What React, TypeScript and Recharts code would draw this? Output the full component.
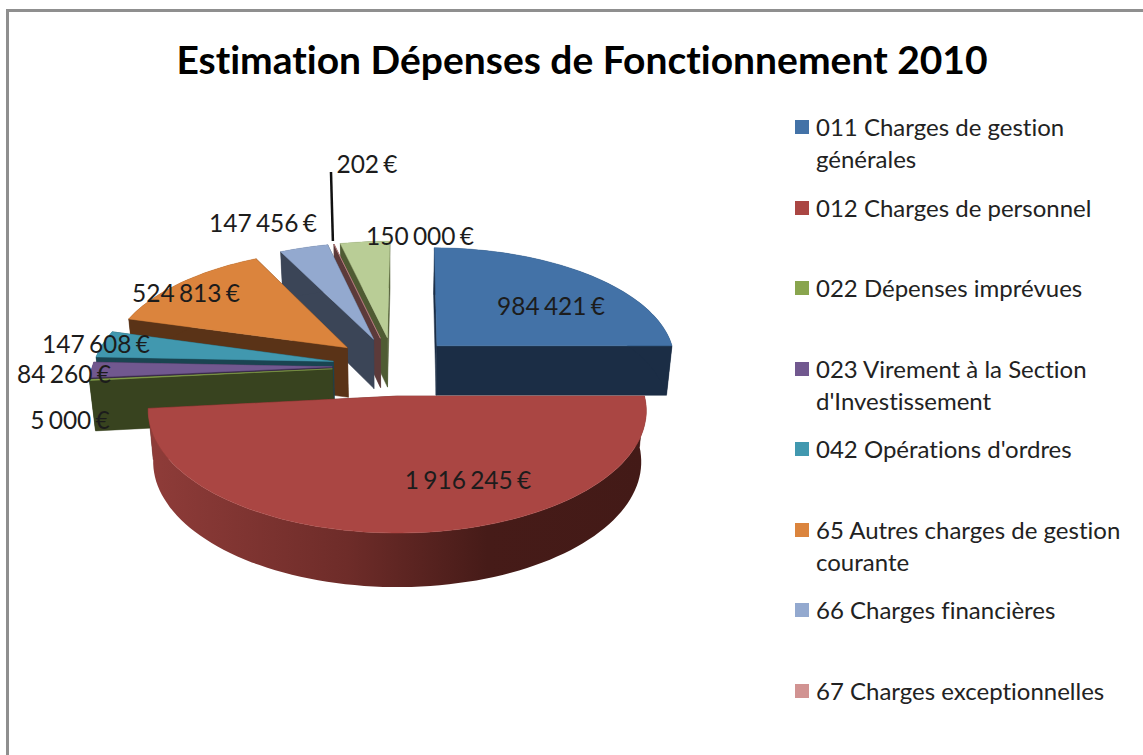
// Estimation Dépenses de Fonctionnement 2010 - exploded 3D pie, drawn with a custom Pie shape
import React from 'react';
import { PieChart, Pie, Legend } from 'recharts';

const legendLines = [
  ['011 Charges de gestion', 'générales'],
  ['012 Charges de personnel'],
  ['022 Dépenses imprévues'],
  ['023 Virement à la Section', "d'Investissement"],
  ["042 Opérations d'ordres"],
  ['65 Autres charges de gestion', 'courante'],
  ['66 Charges financières'],
  ['67 Charges exceptionnelles'],
];
const values = [984421, 1916245, 5000, 84260, 147608, 524813, 147456, 202, 150000];
const topColors = ['#4372a7', '#aa4643', '#89a54e', '#71588f', '#4198af', '#db843d', '#93a9cf', '#d19392', '#b9cd96'];
const wallColors = ['#1b2d45', 'url(#redSide)', '#38431f', '#3a2a4a', '#1a4451', '#5a3317', '#3b4557', '#5c3a3a', '#4f5b33'];

// centre of each value label
const labelAnchors = [
  [551, 305], [468, 479], [70, 419], [64, 373], [96, 343], [186, 292], [263, 222], [367, 163], [420, 235],
];

// slices are painted back to front: counter-clockwise from 3 o'clock, blue first and red last
const drawOrder = [0, 8, 7, 6, 5, 4, 3, 2, 1];

const tableData = drawOrder.map((i) => ({
  i,
  name: legendLines[i]?.join(' ') ?? '',
  value: values[i],
  top: topColors[i],
  wall: wallColors[i],
}));

// projection of the tilted pie
const RADIUS_Y = 113.7;
const PERSPECTIVE = 0.115;
const EXPLODE = 0.257;
const THICKNESS = 50;
const BOTTOM_SHRINK = 0.98;
const CX = 394;
const CY = 366;
const RADIUS_X = 240;

const project = (u: number, v: number, depth = 0) => {
  const s = 1 / (1 - PERSPECTIVE * v);
  const shrink = depth ? BOTTOM_SHRINK : 1;
  return {
    x: CX + RADIUS_X * u * s * shrink,
    y: CY + RADIUS_Y * v * s + depth * Math.sqrt(s),
  };
};

const rad = (a: number) => (a * Math.PI) / 180;

const toPath = (pts: { x: number; y: number }[]) =>
  'M' + pts.map((p) => `${p.x.toFixed(1)} ${p.y.toFixed(1)}`).join('L') + 'Z';

const offsetOf = (startAngle: number, endAngle: number) => {
  const mid = rad((startAngle + endAngle) / 2);
  return { ou: Math.cos(mid) * EXPLODE, ov: -Math.sin(mid) * EXPLODE };
};

const Slice3D = (props: any) => {
  const { startAngle, endAngle } = props;
  const row = props.payload ?? props;
  const { ou, ov } = offsetOf(startAngle, endAngle);

  const rim = (a: number, depth = 0) => project(ou + Math.cos(rad(a)), ov - Math.sin(rad(a)), depth);
  const apex = (depth = 0) => project(ou, ov, depth);

  const steps = Math.max(2, Math.ceil((endAngle - startAngle) / 2));
  const angles = Array.from({ length: steps + 1 }, (_, k) => startAngle + ((endAngle - startAngle) * k) / steps);

  const top = toPath([apex(), ...angles.map((a) => rim(a))]);
  const side = toPath([...angles.map((a) => rim(a)), ...[...angles].reverse().map((a) => rim(a, THICKNESS))]);
  const faceA = toPath([apex(), rim(startAngle), rim(startAngle, THICKNESS), apex(THICKNESS)]);
  const faceB = toPath([apex(), rim(endAngle), rim(endAngle, THICKNESS), apex(THICKNESS)]);
  const flatWall = row.wall.startsWith('url') ? '#5e2420' : row.wall;

  return (
    <g>
      <path d={faceA} fill={flatWall} stroke={flatWall} strokeWidth={0.5} />
      <path d={faceB} fill={flatWall} stroke={flatWall} strokeWidth={0.5} />
      <path d={side} fill={row.wall} />
      <path d={top} fill={row.top} stroke={row.top} strokeWidth={0.5} />
    </g>
  );
};

const formatEuro = (v: number) => String(v).replace(/\B(?=(\d{3})+$)/g, ' ') + ' €';

const SliceLabel = (props: any) => {
  const row = props.payload ?? props;
  const [x, y] = labelAnchors[row.i];
  let leader = null;
  if (row.i === 7) {
    const a = (props.startAngle + props.endAngle) / 2;
    const { ou, ov } = offsetOf(props.startAngle, props.endAngle);
    const end = project(ou + Math.cos(rad(a)), ov - Math.sin(rad(a)));
    leader = <line x1={x - 36} y1={172} x2={end.x - 1} y2={end.y - 3} stroke="#111" strokeWidth={2.5} />;
  }
  return (
    <g>
      {leader}
      <text
        x={x}
        y={y}
        textAnchor="middle"
        dominantBaseline="central"
        fontFamily="Lato, sans-serif"
        fontSize={24.5}
        wordSpacing={-2}
        fill="#1c1c1c"
      >
        {formatEuro(row.value)}
      </text>
    </g>
  );
};

const ChartLegend = () => (
  <div
    style={{
      fontFamily: 'Lato, sans-serif',
      fontSize: 24,
      fontVariantLigatures: 'none',
      color: '#222',
      lineHeight: '32px',
    }}
  >
    {legendLines.map((lines, i) => (
      <div key={i} style={{ position: 'absolute', left: 0, top: i * 80.5, display: 'flex' }}>
        <div style={{ width: 14, height: 14, marginTop: 9, marginRight: 7, background: topColors[i] }} />
        <div style={{ whiteSpace: 'nowrap' }}>
          {lines.map((l) => (
            <div key={l}>{l}</div>
          ))}
        </div>
      </div>
    ))}
  </div>
);

export default function App() {
  return (
    <div style={{ position: 'fixed', left: 0, top: 0, width: 1143, height: 755, background: '#fff', overflow: 'hidden' }}>
      <div
        style={{
          position: 'absolute',
          left: 6,
          top: 9,
          width: 1200,
          height: 800,
          borderTop: '3px solid #8f8f8f',
          borderLeft: '3px solid #8f8f8f',
        }}
      />
      <div
        style={{
          position: 'absolute',
          left: 0,
          width: 1164,
          top: 34,
          textAlign: 'center',
          fontFamily: 'Lato, sans-serif',
          fontWeight: 700,
          fontSize: 39,
          fontVariantLigatures: 'none',
          lineHeight: '50px',
          color: '#000',
          whiteSpace: 'nowrap',
        }}
      >
        Estimation Dépenses de Fonctionnement 2010
      </div>
      <PieChart width={1143} height={755} margin={{ top: 0, right: 0, bottom: 0, left: 0 }}>
        <defs>
          <linearGradient id="redSide" x1="0" y1="0" x2="1" y2="0">
            <stop offset="0" stopColor="#8f3c39" />
            <stop offset="0.4" stopColor="#6e2c29" />
            <stop offset="0.68" stopColor="#461b18" />
            <stop offset="1" stopColor="#431a17" />
          </linearGradient>
        </defs>
        <Pie
          data={tableData}
          dataKey="value"
          nameKey="name"
          cx={CX}
          cy={CY}
          outerRadius={RADIUS_X}
          startAngle={0}
          endAngle={360}
          stroke="none"
          shape={Slice3D}
          label={SliceLabel}
          labelLine={false}
          isAnimationActive={false}
        />
        <Legend
          content={ChartLegend}
          wrapperStyle={{ position: 'absolute', left: 795, top: 111, width: 340, height: 640 }}
        />
      </PieChart>
    </div>
  );
}
